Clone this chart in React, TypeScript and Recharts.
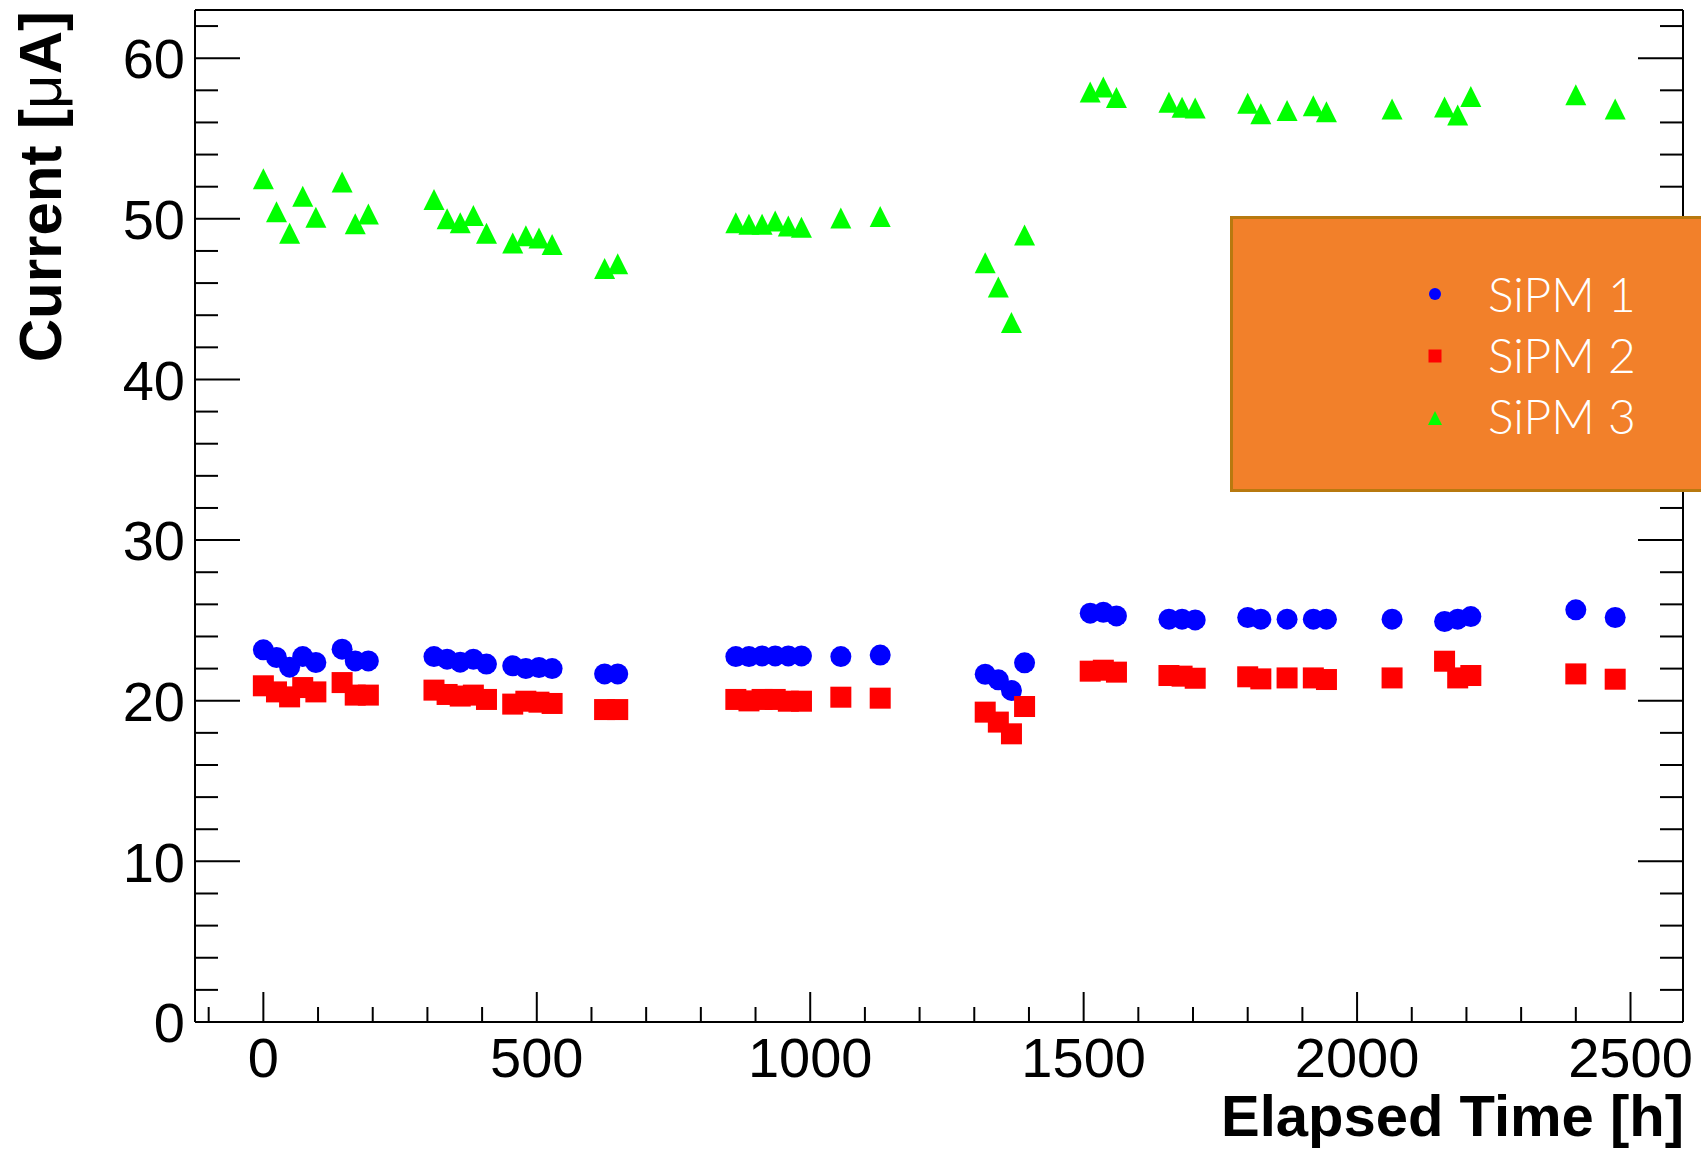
import React from 'react';
import { ScatterChart, Scatter, XAxis, YAxis, Legend } from 'recharts';

// elapsed time of each measurement [h]
const hours = [
  0, 24, 48, 72, 96, 144, 168, 192, 312, 336, 360, 384, 408, 456, 480, 504, 528,
  624, 648, 864, 888, 912, 936, 960, 984, 1056, 1128, 1320, 1344, 1368, 1392,
  1512, 1536, 1560, 1656, 1680, 1704, 1800, 1824, 1872, 1920, 1944, 2064, 2160,
  2184, 2208, 2400, 2472,
];

// currents [uA]
const sipm1 = [
  23.17, 22.69, 22.09, 22.75, 22.38, 23.21, 22.48, 22.48, 22.75, 22.59, 22.4, 22.59,
  22.28, 22.17, 22.0, 22.07, 22.0, 21.67, 21.67, 22.75, 22.75, 22.79, 22.79, 22.79,
  22.79, 22.75, 22.84, 21.65, 21.3, 20.64, 22.36, 25.45, 25.51, 25.28, 25.08, 25.08,
  25.03, 25.18, 25.08, 25.08, 25.08, 25.08, 25.08, 24.93, 25.08, 25.24, 25.66, 25.18,
];
const sipm2 = [
  20.93, 20.55, 20.24, 20.82, 20.55, 21.13, 20.35, 20.35, 20.66, 20.39, 20.29, 20.35,
  20.08, 19.79, 19.97, 19.91, 19.83, 19.45, 19.45, 20.08, 19.99, 20.08, 20.08, 19.97,
  19.97, 20.22, 20.16, 19.29, 18.67, 17.94, 19.64, 21.84, 21.9, 21.78, 21.57, 21.53,
  21.4, 21.49, 21.36, 21.42, 21.42, 21.32, 21.42, 22.46, 21.42, 21.57, 21.67, 21.34,
];
const sipm3 = [
  52.5, 50.44, 49.1, 51.4, 50.1, 52.3, 49.7, 50.3, 51.2, 50.0, 49.76, 50.2,
  49.1, 48.5, 48.95, 48.8, 48.4, 46.9, 47.2, 49.76, 49.66, 49.66, 49.86, 49.55,
  49.47, 50.05, 50.15, 47.27, 45.76, 43.54, 49.0, 57.9, 58.2, 57.55, 57.25, 56.94,
  56.9, 57.2, 56.54, 56.75, 57.04, 56.67, 56.83, 56.96, 56.46, 57.62, 57.72, 56.83,
];

const seriesNames = ['SiPM 1', 'SiPM 2', 'SiPM 3'];

const xTicks = [
  -100, 0, 100, 200, 300, 400, 500, 600, 700, 800, 900, 1000, 1100, 1200, 1300, 1400,
  1500, 1600, 1700, 1800, 1900, 2000, 2100, 2200, 2300, 2400, 2500,
];
const xMajor = [0, 500, 1000, 1500, 2000, 2500];
const yTicks = [
  0, 2, 4, 6, 8, 10, 12, 14, 16, 18, 20, 22, 24, 26, 28, 30, 32, 34, 36, 38, 40, 42,
  44, 46, 48, 50, 52, 54, 56, 58, 60, 62,
];
const yMajor = [0, 10, 20, 30, 40, 50, 60];

const FONT = '"Liberation Sans", Arial, Helvetica, sans-serif';
const LEGEND_FONT = 'Lato, "Open Sans", "DejaVu Sans", sans-serif';

const toPoints = (vals: number[]) => hours.map((h, i) => ({ x: h, y: vals[i] }));

const Circle = (p: any) => <circle cx={p.cx} cy={p.cy} r={10.5} fill="#0000ff" />;
const Square = (p: any) => <rect x={p.cx - 10.5} y={p.cy - 10.5} width={21} height={21} fill="#ff0000" />;
const Triangle = (p: any) => (
  <polygon
    points={`${p.cx - 10.5},${p.cy + 10.5} ${p.cx + 10.5},${p.cy + 10.5} ${p.cx},${p.cy - 10.5}`}
    fill="#00ff00"
  />
);

const BottomTick = ({ x, y, payload }: any) => {
  const major = xMajor.includes(payload.value);
  return (
    <g>
      <line x1={x} y1={y} x2={x} y2={y - (major ? 30 : 15)} stroke="#000" strokeWidth={2} />
      {major && (
        <text x={x} y={y + 55} textAnchor="middle" fontSize={56} fontFamily={FONT} fill="#000">
          {payload.value}
        </text>
      )}
    </g>
  );
};

const TopTick = ({ x, y, payload }: any) => {
  const major = xMajor.includes(payload.value);
  return <line x1={x} y1={y} x2={x} y2={y + (major ? 30 : 15)} stroke="#000" strokeWidth={2} />;
};

const LeftTick = ({ x, y, payload }: any) => {
  const major = yMajor.includes(payload.value);
  return (
    <g>
      <line x1={x} y1={y} x2={x + (major ? 45 : 23)} y2={y} stroke="#000" strokeWidth={2} />
      {major && (
        <text x={x - 10} y={y} dy="0.36em" textAnchor="end" fontSize={56} fontFamily={FONT} fill="#000">
          {payload.value}
        </text>
      )}
    </g>
  );
};

const RightTick = ({ x, y, payload }: any) => {
  const major = yMajor.includes(payload.value);
  return <line x1={x} y1={y} x2={x - (major ? 45 : 23)} y2={y} stroke="#000" strokeWidth={2} />;
};

const legendMarker = (type: string, cx: number, cy: number, color: string) => {
  if (type === 'circle') return <circle cx={cx} cy={cy} r={6} fill={color} />;
  if (type === 'square') return <rect x={cx - 6.5} y={cy - 6.5} width={13} height={13} fill={color} />;
  return <polygon points={`${cx - 7},${cy + 7} ${cx + 7},${cy + 7} ${cx},${cy - 7}`} fill={color} />;
};

const LegendBox = (props: any) => {
  const payload = props.payload || [];
  return (
    <svg width={471} height={276} style={{ display: 'block' }}>
      <rect x={1.5} y={1.5} width={500} height={273} fill="#F2802A" stroke="#B8790F" strokeWidth={3} />
      {payload.map((entry: any, i: number) => (
        <g key={entry.value}>
          {legendMarker(entry.type, 205, 78 + 62 * i, entry.color)}
          <text
            x={258}
            y={96 + 61 * i}
            fontSize={48}
            fontWeight={300}
            fontFamily={LEGEND_FONT}
            fill="#ffffff"
          >
            {entry.value}
          </text>
        </g>
      ))}
    </svg>
  );
};

export default function App() {
  return (
    <div style={{ position: 'absolute', left: 0, top: 0, width: 1701, height: 1150, background: '#fff' }}>
      <ScatterChart width={1701} height={1150} margin={{ top: 0, right: 0, bottom: 0, left: 0 }}>
        <XAxis
          xAxisId="b"
          dataKey="x"
          type="number"
          orientation="bottom"
          domain={[-125, 2596]}
          allowDataOverflow
          ticks={xTicks}
          interval={0}
          height={128}
          tickSize={0}
          tickMargin={0}
          tickLine={false}
          tick={<BottomTick />}
          axisLine={{ stroke: '#000', strokeWidth: 2 }}
          label={{
            content: () => (
              <text x={1684} y={1136} textAnchor="end" fontSize={58} fontWeight="bold" fontFamily={FONT} fill="#000">
                Elapsed Time [h]
              </text>
            ),
          }}
        />
        <XAxis
          xAxisId="t"
          type="number"
          orientation="top"
          domain={[-125, 2596]}
          allowDataOverflow
          ticks={xTicks}
          interval={0}
          height={10}
          tickSize={0}
          tickMargin={0}
          tickLine={false}
          tick={<TopTick />}
          axisLine={{ stroke: '#000', strokeWidth: 2 }}
        />
        <YAxis
          yAxisId="l"
          dataKey="y"
          type="number"
          orientation="left"
          domain={[0, 63]}
          allowDataOverflow
          ticks={yTicks}
          interval={0}
          width={195}
          tickSize={0}
          tickMargin={0}
          tickLine={false}
          tick={<LeftTick />}
          axisLine={{ stroke: '#000', strokeWidth: 2 }}
          label={{
            content: () => (
              <text
                x={61}
                y={11}
                transform="rotate(-90, 61, 11)"
                textAnchor="end"
                fontSize={60}
                fontWeight="bold"
                fontFamily={FONT}
                fill="#000"
              >
                Current [<tspan fontWeight="normal">μ</tspan>A]
              </text>
            ),
          }}
        />
        <YAxis
          yAxisId="r"
          type="number"
          orientation="right"
          domain={[0, 63]}
          allowDataOverflow
          ticks={yTicks}
          interval={0}
          width={18}
          tickSize={0}
          tickMargin={0}
          tickLine={false}
          tick={<RightTick />}
          axisLine={{ stroke: '#000', strokeWidth: 2 }}
        />
        <Legend
          layout="horizontal"
          verticalAlign="middle"
          align="center"
          content={<LegendBox />}
          wrapperStyle={{ position: 'absolute', left: 1230, top: 216, width: 471, height: 276, margin: 0, padding: 0 }}
        />
        <Scatter
          name={seriesNames[0]}
          data={toPoints(sipm1)}
          xAxisId="b"
          yAxisId="l"
          fill="#0000ff"
          legendType="circle"
          shape={Circle}
          isAnimationActive={false}
        />
        <Scatter
          name={seriesNames[1]}
          data={toPoints(sipm2)}
          xAxisId="b"
          yAxisId="l"
          fill="#ff0000"
          legendType="square"
          shape={Square}
          isAnimationActive={false}
        />
        <Scatter
          name={seriesNames[2]}
          data={toPoints(sipm3)}
          xAxisId="b"
          yAxisId="l"
          fill="#00ff00"
          legendType="triangle"
          shape={Triangle}
          isAnimationActive={false}
        />
      </ScatterChart>
    </div>
  );
}
